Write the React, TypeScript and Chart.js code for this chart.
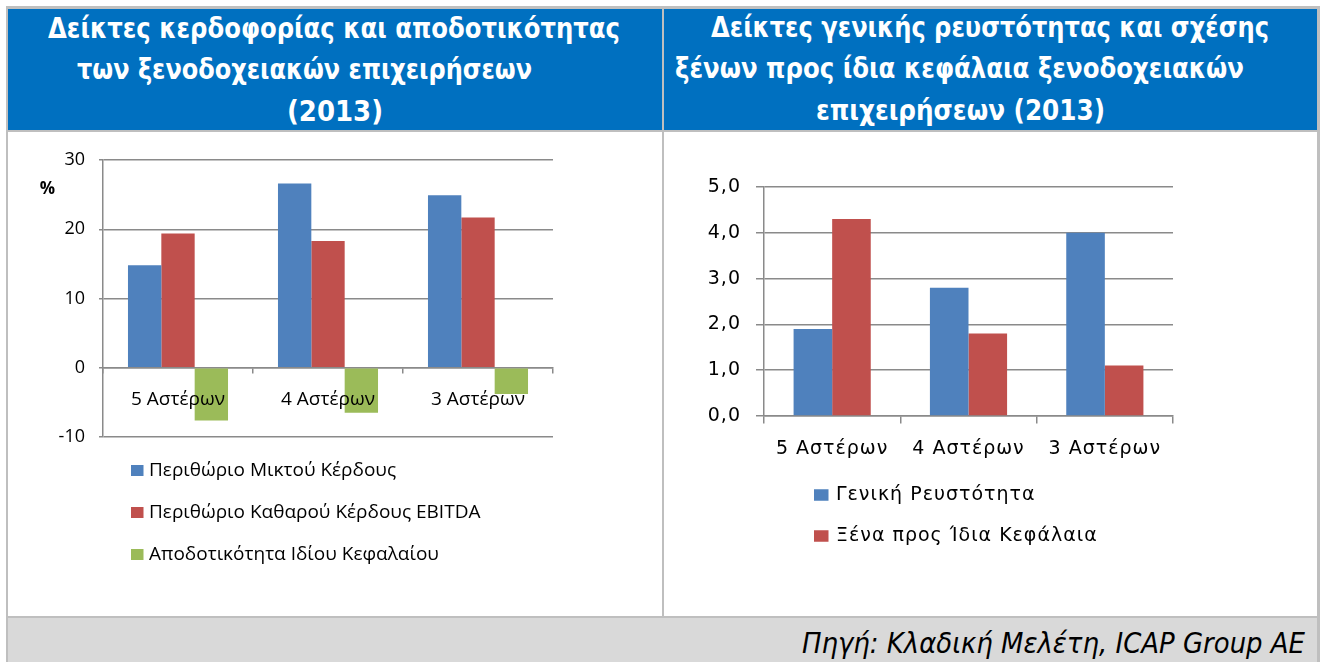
import React, { useEffect, useRef } from "react";
import { Chart, registerables } from "chart.js";

Chart.register(...registerables);

// ---------------- data ----------------
const starCategories = ["5 Αστέρων", "4 Αστέρων", "3 Αστέρων"];

const grossProfitMargin = [14.8, 26.6, 24.9];
const ebitdaMargin = [19.4, 18.3, 21.7];
const returnOnEquity = [-7.6, -6.5, -3.8];
const profitSeriesLabels = [
  "Περιθώριο Μικτού Κέρδους",
  "Περιθώριο Καθαρού Κέρδους EBITDA",
  "Αποδοτικότητα Ιδίου Κεφαλαίου",
];
const profitAxisTicks = [-10, 0, 10, 20, 30];
const profitUnit = "%";

const generalLiquidity = [1.9, 2.8, 4.0];
const debtToEquity = [4.3, 1.8, 1.1];
const liquiditySeriesLabels = ["Γενική Ρευστότητα", "Ξένα προς Ίδια Κεφάλαια"];
const liquidityAxisTicks = [0, 1, 2, 3, 4, 5];

const leftTitleLines = [
  "Δείκτες κερδοφορίας και αποδοτικότητας",
  "των ξενοδοχειακών επιχειρήσεων",
  "(2013)",
];
const rightTitleLines = [
  "Δείκτες γενικής ρευστότητας και σχέσης",
  "ξένων προς ίδια κεφάλαια ξενοδοχειακών",
  "επιχειρήσεων (2013)",
];
const sourceText = "Πηγή: Κλαδική Μελέτη, ICAP Group AE";

// ---------------- styles ----------------
const BLUE = "#4F81BD";
const RED = "#C0504D";
const GREEN = "#9BBB59";
const GRID = "#8a8a8a";
const HEADER_BLUE = "#0070C0";
const FRAME_GRAY = "#BFBFBF";
const FOOTER_GRAY = "#D9D9D9";

const measureCtx = document.createElement("canvas").getContext("2d") as CanvasRenderingContext2D;

function TextLine(props: {
  text: string;
  family: string;
  size: number;
  weight?: string;
  fontStyle?: string;
  color: string;
  left: number;
  width: number;
  baseline: number;
}) {
  const { text, family, size, color, left, width, baseline } = props;
  const weight = props.weight || "normal";
  const fontStyle = props.fontStyle || "normal";
  const font = `${fontStyle} ${weight} ${size}px ${family}`;
  measureCtx.font = font;
  const m = measureCtx.measureText(text);
  const A = m.fontBoundingBoxAscent || size * 0.93;
  const D = m.fontBoundingBoxDescent || size * 0.24;
  const lh = Math.round(size * 1.5);
  const topOff = (lh - (A + D)) / 2 + A - size * 0.18;
  const sx = width / m.width;
  return (
    <div
      style={{
        position: "absolute",
        left,
        top: baseline - topOff,
        height: lh,
        lineHeight: lh + "px",
        whiteSpace: "pre",
        font,
        color,
        transform: `scaleX(${sx})`,
        transformOrigin: "0 0",
      }}
    >
      {text}
    </div>
  );
}

// letter spacing for all canvas text of a chart
const spacingPlugin = {
  id: "textSpacing",
  beforeDraw(chart: any, _a: any, opts: any) {
    (chart.ctx as any).letterSpacing = (opts && opts.spacing) || "0px";
  },
  afterDraw(chart: any) {
    (chart.ctx as any).letterSpacing = "0px";
  },
};

// legend + unit label drawn on the chart canvas
const sideLegendPlugin = {
  id: "sideLegend",
  afterDraw(chart: any, _args: any, opts: any) {
    if (!opts || !opts.show) return;
    const ctx = chart.ctx as CanvasRenderingContext2D;
    ctx.save();
    (ctx as any).letterSpacing = opts.spacing || "0px";
    ctx.font = opts.textFont;
    ctx.textBaseline = "middle";
    ctx.textAlign = "left";
    chart.data.datasets.forEach((ds: any, i: number) => {
      const cy = opts.firstY + i * opts.step;
      ctx.fillStyle = ds.backgroundColor;
      ctx.fillRect(opts.boxX, cy - opts.boxH / 2, opts.boxW, opts.boxH);
      ctx.fillStyle = "#000";
      ctx.fillText(ds.label, opts.textX, cy);
    });
    if (opts.unit) {
      (ctx as any).letterSpacing = "0px";
      ctx.font = opts.unitFont;
      ctx.textAlign = "center";
      ctx.fillText(opts.unit, opts.unitX, opts.unitY);
    }
    ctx.restore();
  },
};

function ChartCanvas(props: { make: () => any; left: number; top: number; width: number; height: number }) {
  const ref = useRef<HTMLCanvasElement | null>(null);
  useEffect(() => {
    const chart = new Chart(ref.current as HTMLCanvasElement, props.make());
    return () => chart.destroy();
  }, []);
  return (
    <canvas
      ref={ref}
      width={props.width}
      height={props.height}
      style={{ position: "absolute", left: props.left, top: props.top, width: props.width, height: props.height, display: "block" }}
    />
  );
}

const LEFT_FONT = "'Open Sans'";
const RIGHT_FONT = "'DejaVu Sans'";

function makeProfitChart() {
  return {
    type: "bar",
    data: {
      labels: starCategories,
      datasets: [
        { label: profitSeriesLabels[0], data: grossProfitMargin, backgroundColor: BLUE },
        { label: profitSeriesLabels[1], data: ebitdaMargin, backgroundColor: RED },
        { label: profitSeriesLabels[2], data: returnOnEquity, backgroundColor: GREEN },
      ],
    },
    plugins: [sideLegendPlugin],
    options: {
      animation: false,
      responsive: false,
      layout: { padding: { top: 28, right: 109, bottom: 179, left: 0 } },
      datasets: { bar: { categoryPercentage: 0.667, barPercentage: 1, borderWidth: 0 } },
      plugins: {
        legend: { display: false },
        tooltip: { enabled: false },
        sideLegend: {
          show: true,
          textFont: `19px ${LEFT_FONT}`,
          boxX: 123,
          boxW: 12.5,
          boxH: 11,
          textX: 141,
          firstY: 338.5,
          step: 42,
          unit: profitUnit,
          unitFont: `bold 17px ${LEFT_FONT}`,
          unitX: 39.5,
          unitY: 57,
        },
      },
      scales: {
        x: {
          type: "category",
          position: { y: 0 },
          offset: true,
          grid: { display: true, drawOnChartArea: false, drawTicks: true, tickLength: 5, color: GRID, lineWidth: 1.5, offset: true },
          border: { display: true, color: GRID, width: 1.5 },
          ticks: { z: 1, color: "#000", font: { family: "Open Sans", size: 19 }, padding: 15, maxRotation: 0, autoSkip: false },
        },
        y: {
          min: profitAxisTicks[0],
          max: profitAxisTicks[profitAxisTicks.length - 1],
          afterBuildTicks: (s: any) => {
            s.ticks = profitAxisTicks.map((v) => ({ value: v }));
          },
          afterFit: (s: any) => {
            s.width = 95;
          },
          grid: { color: GRID, lineWidth: 1.5, tickLength: 4 },
          border: { display: true, color: GRID, width: 1.5 },
          ticks: { color: "#000", font: { family: "Open Sans", size: 18 }, padding: 14 },
        },
      },
    },
  };
}

function makeLiquidityChart() {
  return {
    type: "bar",
    data: {
      labels: starCategories,
      datasets: [
        { label: liquiditySeriesLabels[0], data: generalLiquidity, backgroundColor: BLUE },
        { label: liquiditySeriesLabels[1], data: debtToEquity, backgroundColor: RED },
      ],
    },
    plugins: [spacingPlugin, sideLegendPlugin],
    options: {
      animation: false,
      responsive: false,
      layout: { padding: { top: 55, right: 144, bottom: 200, left: 0 } },
      datasets: { bar: { categoryPercentage: 0.566, barPercentage: 1, borderWidth: 0 } },
      plugins: {
        legend: { display: false },
        tooltip: { enabled: false },
        textSpacing: { spacing: "1px" },
        sideLegend: {
          show: true,
          spacing: "1px",
          textFont: `19px ${RIGHT_FONT}`,
          boxX: 150,
          boxW: 14.5,
          boxH: 11.5,
          textX: 172,
          firstY: 363,
          step: 41,
          unit: "",
        },
      },
      scales: {
        x: {
          type: "category",
          position: { y: 0 },
          offset: true,
          grid: { display: true, drawOnChartArea: false, drawTicks: true, tickLength: 7, color: GRID, lineWidth: 1.5, offset: true },
          border: { display: true, color: GRID, width: 1.5 },
          ticks: { z: 1, color: "#000", font: { family: "DejaVu Sans", size: 19 }, padding: 15, maxRotation: 0, autoSkip: false },
        },
        y: {
          min: liquidityAxisTicks[0],
          max: liquidityAxisTicks[liquidityAxisTicks.length - 1],
          afterBuildTicks: (s: any) => {
            s.ticks = liquidityAxisTicks.map((v) => ({ value: v }));
          },
          afterFit: (s: any) => {
            s.width = 100;
          },
          grid: { color: GRID, lineWidth: 1.5, tickLength: 8 },
          border: { display: true, color: GRID, width: 1.5 },
          ticks: {
            color: "#000",
            font: { family: "DejaVu Sans", size: 19 },
            padding: 15,
            callback: (v: any) => Number(v).toFixed(1).replace(".", ","),
          },
        },
      },
    },
  };
}

const HEAD_FONT = "'DejaVu Sans', 'Noto Sans', sans-serif";

export default function App() {
  const leftLines = [
    { left: 48, width: 572, baseline: 37 },
    { left: 77, width: 455, baseline: 78 },
    { left: 287, width: 96, baseline: 120 },
  ];
  const rightLines = [
    { left: 711, width: 558, baseline: 36 },
    { left: 675, width: 569, baseline: 77 },
    { left: 816, width: 289, baseline: 119 },
  ];
  return (
    <div style={{ position: "absolute", left: 0, top: 0, width: 1320, height: 662, overflow: "hidden", background: "#fff" }}>
      <div style={{ position: "absolute", left: 6, top: 6, width: 1314, height: 656, background: FRAME_GRAY }} />
      <div style={{ position: "absolute", left: 8, top: 9, width: 654, height: 121, background: HEADER_BLUE }} />
      <div style={{ position: "absolute", left: 664, top: 9, width: 653, height: 121, background: HEADER_BLUE }} />
      <div style={{ position: "absolute", left: 8, top: 132, width: 654, height: 484, background: "#fff" }} />
      <div style={{ position: "absolute", left: 664, top: 132, width: 653, height: 484, background: "#fff" }} />
      <div style={{ position: "absolute", left: 8, top: 618, width: 1309, height: 44, background: FOOTER_GRAY }} />

      {leftTitleLines.map((t, i) => (
        <TextLine key={"l" + i} text={t} family={HEAD_FONT} size={28} weight="bold" color="#fff" {...leftLines[i]} />
      ))}
      {rightTitleLines.map((t, i) => (
        <TextLine key={"r" + i} text={t} family={HEAD_FONT} size={28} weight="bold" color="#fff" {...rightLines[i]} />
      ))}

      <ChartCanvas make={makeProfitChart} left={8} top={132} width={654} height={484} />
      <ChartCanvas make={makeLiquidityChart} left={664} top={132} width={653} height={484} />

      <TextLine text={sourceText} family={HEAD_FONT} size={29} fontStyle="italic" color="#000" left={802} width={503} baseline={653} />
    </div>
  );
}
